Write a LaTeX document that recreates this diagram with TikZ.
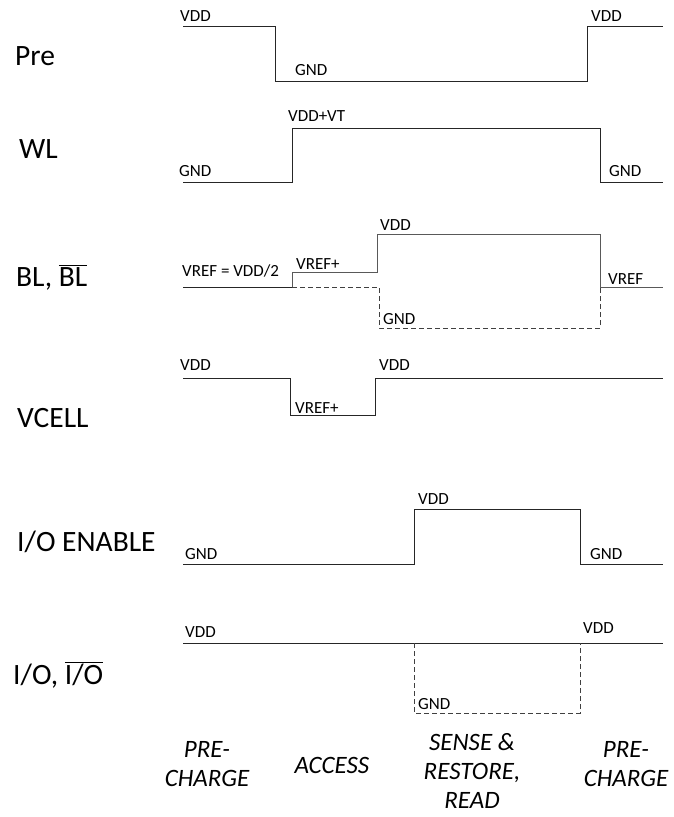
\documentclass[tikz,border=0pt]{standalone}
\usepackage{fontspec}
\setmainfont{Carlito}
\usepackage{tikz}

\begin{document}
\begin{tikzpicture}[
  x=1pt, y=-1pt,
  signal/.style={line width=1pt, black!85},
  dashsig/.style={line width=1pt, black!75, dash pattern=on 5pt off 3pt},
  level/.style={anchor=base west, inner sep=0pt, font=\fontsize{17}{20}\selectfont},
  signame/.style={anchor=base west, inner sep=0pt, font=\fontsize{29.5}{34}\selectfont},
  phase/.style={align=center, inner sep=0pt, font=\fontsize{25}{29}\selectfont\itshape}
]

% Page
\path[fill=white] (0,0) rectangle (673,817);

% Signal names
\node[signame] (pre_name) at (15,65) {Pre};
\node[signame] (wl_name) at (19,158) {WL};
\node[signame] (bl_name) at (16,286) {BL, $\overline{\mbox{BL}}$};
\node[signame] (vcell_name) at (17,427) {VCELL};
\node[signame] (ioen_name) at (17,551) {I/O ENABLE};
\node[signame] (io_name) at (13,684) {I/O, $\overline{\mbox{I/O}}$};

% Pre
\draw[signal] (183,26) -- (275,26) -- (275,81) -- (587,81) -- (587,26) -- (663,26);
\node[level] (pre_vdd1) at (180,21) {VDD};
\node[level] (pre_gnd) at (295,75) {GND};
\node[level] (pre_vdd2) at (591,21) {VDD};

% WL
\draw[signal] (183,182) -- (292,182) -- (292,128) -- (600,128) -- (600,182) -- (663,182);
\node[level] (wl_gnd1) at (179,176) {GND};
\node[level] (wl_vddvt) at (288,121) {VDD+VT};
\node[level] (wl_gnd2) at (609,176) {GND};

% BL, BL bar
\draw[signal] (183,287) -- (292,287);
\draw[signal, black!65] (292,287) -- (292,272) -- (377,272) -- (377,234) -- (600,234) -- (600,287) -- (663,287);
\draw[dashsig] (292,287) -- (379,287) -- (379,328) -- (600,328) -- (600,287);
\node[level] (bl_vref) at (182,276) {VREF = VDD/2};
\node[level] (bl_vrefp) at (296,269) {VREF+};
\node[level] (bl_vdd) at (380,230) {VDD};
\node[level] (bl_gnd) at (383,324) {GND};
\node[level] (bl_vref2) at (608,284) {VREF};

% VCELL
\draw[signal] (183,378) -- (290,378) -- (290,415) -- (375,415) -- (375,378) -- (663,378);
\node[level] (vc_vdd1) at (180,370) {VDD};
\node[level] (vc_vrefp) at (295,413) {VREF+};
\node[level] (vc_vdd2) at (379,370) {VDD};

% I/O ENABLE
\draw[signal] (183,564) -- (414,564) -- (414,509) -- (580,509) -- (580,564) -- (663,564);
\node[level] (en_gnd1) at (185,559) {GND};
\node[level] (en_vdd) at (418,504) {VDD};
\node[level] (en_gnd2) at (590,559) {GND};

% I/O, I/O bar
\draw[signal] (183,643) -- (663,643);
\draw[dashsig] (414,643) -- (414,713) -- (580,713) -- (580,643);
\node[level] (io_vdd1) at (185,637) {VDD};
\node[level] (io_vdd2) at (583,633) {VDD};
\node[level] (io_gnd) at (418,709) {GND};

% Phases
\node[phase] (ph_pre1) at (207,764.5) {PRE-\\CHARGE};
\node[phase] (ph_acc) at (332,765) {ACCESS};
\node[phase] (ph_sense) at (472,771) {SENSE \&\\RESTORE,\\READ};
\node[phase] (ph_pre2) at (626,764.5) {PRE-\\CHARGE};

\end{tikzpicture}
\end{document}
